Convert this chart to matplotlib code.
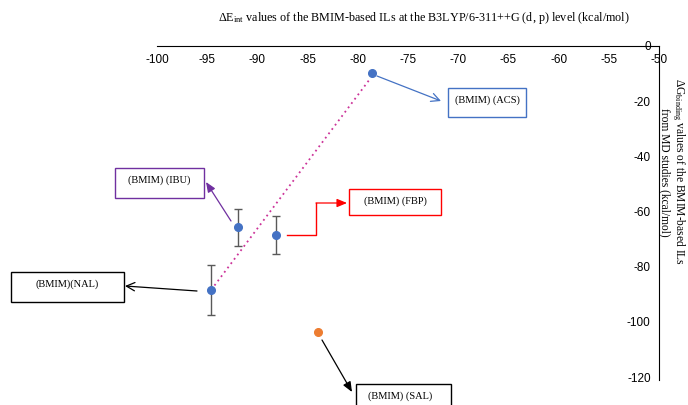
import matplotlib
matplotlib.use("Agg")
import matplotlib.pyplot as plt
from matplotlib.patches import Rectangle, FancyArrowPatch
from matplotlib.lines import Line2D

plt.rcParams['mathtext.fontset'] = 'custom'
plt.rcParams['mathtext.rm'] = 'Liberation Serif'
plt.rcParams['mathtext.it'] = 'Liberation Serif:italic'
plt.rcParams['axes.unicode_minus'] = False

# Data
names = ["(BMIM) (ACS)", "(BMIM) (IBU)", "(BMIM) (FBP)", "(BMIM)(NAL)"]
dE_int = [-78.6, -91.9, -88.1, -94.6]
dG_bind = [-9.8, -65.8, -68.5, -88.4]
dG_err = [0.0, 6.6, 6.8, 9.0]
sal_name = "(BMIM) (SAL)"
sal_x = [-84.0]
sal_y = [-103.7]
trend_x = [-94.6, -78.8]
trend_y = [-88.4, -12.0]

xticks = list(range(-100, -49, 5))
yticks = list(range(-120, 1, 20))

W, H = 688, 405
fig = plt.figure(figsize=(W / 100, H / 100), dpi=100)
ax = fig.add_axes([157 / W, 1 - 377 / H, (659 - 157) / W, (377 - 46) / H])
ax.set_xlim(-100, -50)
ax.set_ylim(-120, 0)

blue = "#4472C4"
ax.errorbar(dE_int[1:], dG_bind[1:], yerr=dG_err[1:], fmt='none', ecolor='#595959',
            elinewidth=1.0, capsize=3, capthick=1.0, zorder=2)
ax.plot(trend_x, trend_y, linestyle=(0, (1, 2)), color='#CC3399', lw=1.3, zorder=1)
ax.plot(dE_int, dG_bind, 'o', color=blue, ms=5.5, zorder=3)
ax.plot(sal_x, sal_y, 'o', color='#ED7D31', ms=5.5, zorder=3)

for s in ['top', 'right']:
    ax.spines[s].set_visible(False)
ax.spines['bottom'].set_position(('data', 0))
ax.spines['left'].set_position(('data', -50))
ax.spines['left'].set_bounds(-121, 0)
ax.set_xticks(xticks)
ax.set_yticks(yticks)
ax.tick_params(length=0, labelsize=8.5, colors='black', pad=6)
for lab in ax.get_xticklabels() + ax.get_yticklabels():
    lab.set_fontfamily('Liberation Sans')
ax.patch.set_visible(False)


def P(px, py):
    return (px / W, 1 - py / H)


fig.text(*P(424, 18), r"$\Delta$E$_{\mathrm{int}}$ values of the BMIM-based ILs at the B3LYP/6-311++G (d, p) level (kcal/mol)",
         ha='center', va='center', fontsize=8.7, family='Liberation Serif')

fig.text(*P(673, 172), "$\\Delta$G$_{\\mathrm{binding}}$ values of the BMIM-based ILs\nfrom MD studies (kcal/mol)",
         rotation=270, ha='center', va='center', fontsize=8.3, family='Liberation Serif',
         multialignment='center', linespacing=0.95)

boxes = [
    (names[0], (448, 88, 526, 117), blue, (487, 100)),
    (names[2], (349, 189, 441, 215), 'red', (395, 201)),
    (names[1], (115, 168, 204, 198), '#7030A0', (159, 180)),
    (names[3], (11, 272, 124, 302), 'black', (67, 284)),
    (sal_name, (356, 384, 451, 412), 'black', (400, 396)),
]
for txt, (x0, y0, x1, y1), col, (tx, ty) in boxes:
    fx0, fy1 = P(x0, y1)
    fx1, fy0 = P(x1, y0)
    fig.add_artist(Rectangle((fx0, fy1), fx1 - fx0, fy0 - fy1, transform=fig.transFigure,
                             fill=False, edgecolor=col, lw=1.0))
    fig.text(*P(tx, ty), txt, ha='center', va='center', fontsize=7.5, family='Liberation Serif')


def arrow(p0, p1, col, style):
    fig.add_artist(FancyArrowPatch(P(*p0), P(*p1), transform=fig.transFigure,
                                   arrowstyle=style, color=col, lw=0.9,
                                   shrinkA=0, shrinkB=0))


arrow((377, 76), (441, 101), blue, '->,head_length=6,head_width=3')
arrow((231, 221), (206, 182), '#7030A0', '-|>,head_length=6,head_width=2.5')
arrow((197, 291), (125, 286), 'black', '->,head_length=6,head_width=3')
arrow((322, 340), (352, 392), 'black', '-|>,head_length=6,head_width=2.5')
xs = [287 / W, 316 / W, 316 / W]
ys = [1 - 235 / H, 1 - 235 / H, 1 - 203 / H]
fig.add_artist(Line2D(xs, ys, transform=fig.transFigure, color='red', lw=1.0))
arrow((316, 203), (347, 203), 'red', '-|>,head_length=6,head_width=2.5')

fig.savefig("out.png", dpi=100)
